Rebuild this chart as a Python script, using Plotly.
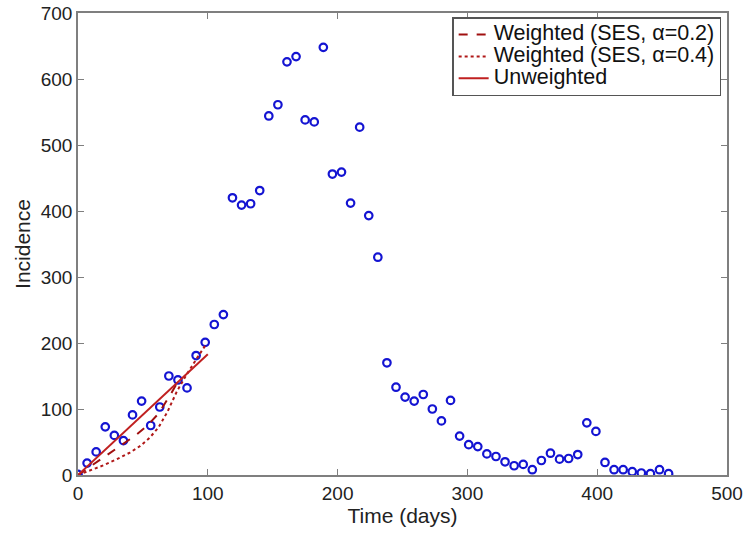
import plotly.graph_objects as go

days = [0, 7, 14, 21, 28, 35, 42, 49, 56, 63, 70, 77, 84, 91, 98, 105, 112, 119, 126, 133,
        140, 147, 154, 161, 168, 175, 182, 189, 196, 203, 210, 217, 224, 231, 238, 245, 252, 259, 266, 273,
        280, 287, 294, 301, 308, 315, 322, 329, 336, 343, 350, 357, 364, 371, 378, 385, 392, 399, 406, 413,
        420, 427, 434, 441, 448, 455]
incidence = [1, 18, 35, 73, 60, 52, 91, 112, 75, 103, 150, 144, 132, 181, 201, 228, 243, 420, 409, 411,
             431, 544, 561, 626, 634, 538, 535, 648, 456, 459, 412, 527, 393, 330, 170, 133, 118, 112, 122, 100,
             82, 113, 59, 46, 43, 32, 28, 20, 14, 16, 8, 22, 33, 24, 25, 31, 79, 66, 19, 8,
             8, 5, 3, 2, 8, 2]

fit_a02_t = [0, 6, 12, 23, 33, 45, 53, 62, 71, 78]
fit_a02_y = [0, 8, 17, 32, 45, 61, 74, 93, 121, 145]

fit_a04_t = [0, 10, 20, 30, 40, 48, 55, 62, 69, 76, 83, 91, 99]
fit_a04_y = [0, 7, 15, 24, 34, 44, 56, 72, 96, 126, 150, 175, 199]

fit_unw_t = [0, 50, 100]
fit_unw_y = [0, 92, 183]

legend_names = ["Weighted (SES, α=0.2)", "Weighted (SES, α=0.4)", "Unweighted"]


def big(s):
    return '<span style="font-size:21.5px">' + s + '</span>'


fig = go.Figure()
fig.add_trace(go.Scatter(x=days, y=incidence, mode="markers", showlegend=False,
                         marker=dict(symbol="circle-open", size=7.5, color="#1414d2",
                                     line=dict(width=2.2, color="#1414d2"))))
fig.add_trace(go.Scatter(x=fit_a02_t, y=fit_a02_y, mode="lines", name=big(legend_names[0]),
                         line=dict(color="#a01010", width=2, dash="dash")))
fig.add_trace(go.Scatter(x=fit_a04_t, y=fit_a04_y, mode="lines", name=big(legend_names[1]),
                         line=dict(color="#b01818", width=2, dash="dot")))
fig.add_trace(go.Scatter(x=fit_unw_t, y=fit_unw_y, mode="lines", name=big(legend_names[2]),
                         line=dict(color="#c02020", width=2)))

axis_common = dict(showgrid=False, zeroline=False, showline=True, linecolor="#7f7f7f",
                   linewidth=1.5, mirror="ticks", ticks="inside", ticklen=6, tickcolor="#7f7f7f",
                   automargin=False, ticklabeloverflow="allow",
                   tickfont=dict(family="Liberation Sans, Arial, sans-serif", size=19, color="#222"))
fig.update_layout(
    width=752, height=536,
    margin=dict(l=78, r=25, t=13, b=61),
    paper_bgcolor="white", plot_bgcolor="white",
    font=dict(family="Liberation Sans, Arial, sans-serif", color="#222"),
    xaxis=dict(range=[0, 500], tickvals=[0, 100, 200, 300, 400, 500],
               title=dict(text="Time (days)", font=dict(size=21), standoff=5), **axis_common),
    yaxis=dict(range=[0, 700], tickvals=[0, 100, 200, 300, 400, 500, 600, 700],
               title=dict(text="Incidence", font=dict(size=21), standoff=4), **axis_common),
    legend=dict(x=0.991, y=0.991, xanchor="right", yanchor="top",
                bgcolor="white", bordercolor="#555", borderwidth=1.5,
                font=dict(size=14.5, color="#111"), tracegroupgap=0,
                itemwidth=30),
)
fig.write_html("out.html", config={"displayModeBar": False},
               post_script="document.body.style.margin='0';")
